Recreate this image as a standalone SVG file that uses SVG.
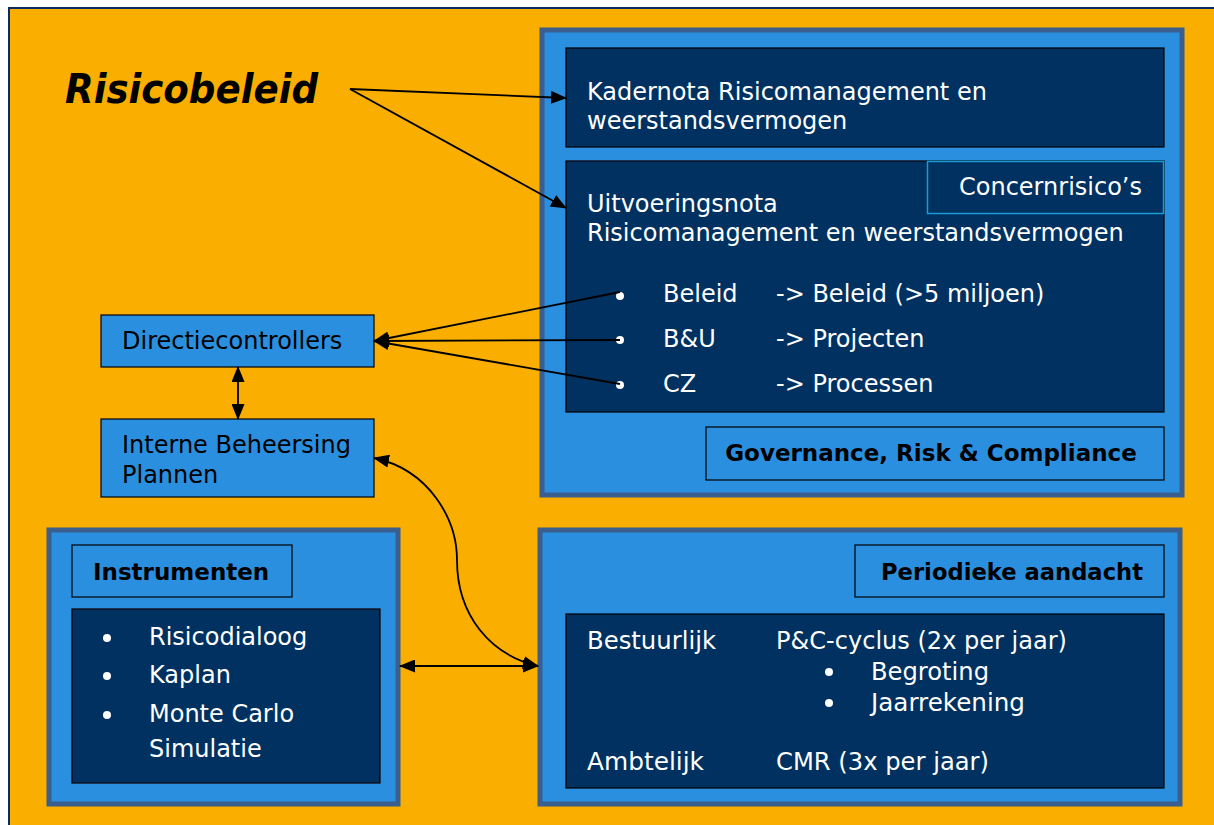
<svg xmlns="http://www.w3.org/2000/svg" width="1214" height="825" viewBox="0 0 1214 825">
<defs>
<marker id="ah" viewBox="0 0 16 13" refX="15" refY="6.5" markerWidth="16" markerHeight="13" markerUnits="userSpaceOnUse" orient="auto-start-reverse">
<path d="M0,0 L16,6.5 L0,13 z" fill="#000"/>
</marker>
<style>
.cont{fill:#2B8FE0;stroke:#3A5F8E;stroke-width:5}
.dark{fill:#003160;stroke:#000;stroke-width:1.2}
.lite{fill:#2B8FE0;stroke:#000;stroke-width:1.2}
.w{font-family:"DejaVu Sans",Verdana,sans-serif;font-size:24px;fill:#fff}
.k{font-family:"DejaVu Sans",Verdana,sans-serif;font-size:24px;fill:#000}
.kb{font-family:"DejaVu Sans",Verdana,sans-serif;font-size:23px;font-weight:bold;fill:#000}
.dot{fill:#fff}
.conn{stroke:#000;stroke-width:1.8;fill:none}
</style>
</defs>
<rect x="0" y="0" width="1214" height="825" fill="#fff"/>
<rect id="frame" x="9" y="8" width="1220" height="830" fill="#F9AE00" stroke="#0A2A66" stroke-width="2"/>
<text x="65" y="103" font-family="'DejaVu Sans',sans-serif" font-size="40" font-weight="bold" font-style="italic" textLength="253" lengthAdjust="spacingAndGlyphs" fill="#000">Risicobeleid</text>

<g id="grc">
<rect class="cont" x="542" y="30" width="640" height="465"/>
<g id="kadernota">
<rect class="dark" x="566" y="48" width="598" height="99"/>
<text class="w" x="587" y="100">Kadernota Risicomanagement en</text>
<text class="w" x="587" y="129">weerstandsvermogen</text>
</g>
<g id="uitvoeringsnota">
<rect class="dark" x="566" y="161" width="598" height="251"/>
<text class="w" x="587" y="212">Uitvoeringsnota</text>
<text class="w" x="587" y="241">Risicomanagement en weerstandsvermogen</text>
<circle class="dot" cx="620" cy="296" r="4"/>
<circle class="dot" cx="620" cy="340" r="4"/>
<circle class="dot" cx="620" cy="385" r="4"/>
<text class="w" x="663" y="302">Beleid</text>
<text class="w" x="776" y="302">-&gt; Beleid (&gt;5 miljoen)</text>
<text class="w" x="663" y="347">B&amp;U</text>
<text class="w" x="776" y="347">-&gt; Projecten</text>
<text class="w" x="663" y="392">CZ</text>
<text class="w" x="776" y="392">-&gt; Processen</text>
</g>
<g id="concernrisicos">
<rect x="927.5" y="161.5" width="236" height="52" fill="#003160" stroke="#1A9AD6" stroke-width="1.5"/>
<text class="w" x="1142" y="195" text-anchor="end">Concernrisico’s</text>
</g>
<g id="governance">
<rect class="lite" x="706" y="427" width="458" height="53"/>
<text class="kb" x="931" y="461" text-anchor="middle">Governance, Risk &amp; Compliance</text>
</g>
</g>

<g id="directiecontrollers">
<rect class="lite" x="101" y="315" width="273" height="52"/>
<text class="k" x="122" y="349">Directiecontrollers</text>
</g>
<g id="interne-beheersing">
<rect class="lite" x="101" y="419" width="273" height="78"/>
<text class="k" x="122" y="453">Interne Beheersing</text>
<text class="k" x="122" y="483">Plannen</text>
</g>

<g id="instrumenten">
<rect class="cont" x="49" y="530" width="349" height="274"/>
<rect class="lite" x="72" y="545" width="220" height="52"/>
<text class="kb" x="93" y="580">Instrumenten</text>
<rect class="dark" x="72" y="609" width="308" height="174"/>
<circle class="dot" cx="107" cy="638" r="4"/>
<circle class="dot" cx="107" cy="676" r="4"/>
<circle class="dot" cx="107" cy="715" r="4"/>
<text class="w" x="149" y="645">Risicodialoog</text>
<text class="w" x="149" y="683">Kaplan</text>
<text class="w" x="149" y="722">Monte Carlo</text>
<text class="w" x="149" y="757">Simulatie</text>
</g>

<g id="periodieke-aandacht">
<rect class="cont" x="540" y="530" width="640" height="274"/>
<rect class="lite" x="855" y="545" width="309" height="52"/>
<text class="kb" x="881" y="580" textLength="262" lengthAdjust="spacingAndGlyphs">Periodieke aandacht</text>
<rect class="dark" x="566" y="614" width="598" height="174"/>
<text class="w" x="587" y="649" textLength="129" lengthAdjust="spacingAndGlyphs">Bestuurlijk</text>
<text class="w" x="776" y="649" textLength="291" lengthAdjust="spacingAndGlyphs">P&amp;C-cyclus (2x per jaar)</text>
<circle class="dot" cx="829" cy="672" r="4"/>
<circle class="dot" cx="829" cy="703" r="4"/>
<text class="w" x="871" y="680" textLength="118" lengthAdjust="spacingAndGlyphs">Begroting</text>
<text class="w" x="871" y="711" textLength="154" lengthAdjust="spacingAndGlyphs">Jaarrekening</text>
<text class="w" x="587" y="770" textLength="117" lengthAdjust="spacingAndGlyphs">Ambtelijk</text>
<text class="w" x="776" y="770" textLength="213" lengthAdjust="spacingAndGlyphs">CMR (3x per jaar)</text>
</g>

<g id="connectors">
<line class="conn" x1="350" y1="89" x2="566" y2="98" marker-end="url(#ah)"/>
<line class="conn" x1="350" y1="89" x2="566" y2="208" marker-end="url(#ah)"/>
<line class="conn" x1="620" y1="292" x2="374" y2="341" marker-end="url(#ah)"/>
<line class="conn" x1="620" y1="340" x2="374" y2="341" marker-end="url(#ah)"/>
<line class="conn" x1="620" y1="384" x2="374" y2="341" marker-end="url(#ah)"/>
<line class="conn" x1="238" y1="367" x2="238" y2="419" marker-start="url(#ah)" marker-end="url(#ah)"/>
<path class="conn" d="M374,458 C430,470 457,520 457,560 C457,615 490,655 538,666" marker-start="url(#ah)" marker-end="url(#ah)"/>
<line class="conn" x1="400" y1="666" x2="538" y2="666" marker-start="url(#ah)" marker-end="url(#ah)"/>
</g>
</svg>
